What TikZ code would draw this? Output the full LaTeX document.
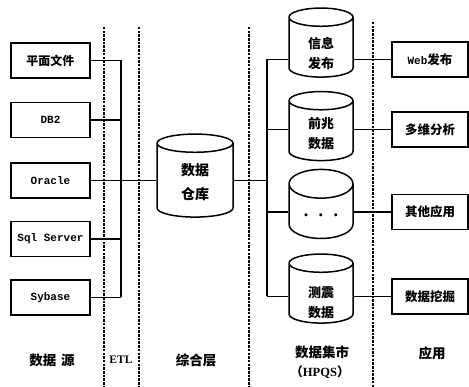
\documentclass[tikz,border=0pt]{standalone}
\usepackage{fontspec}
\setmainfont{Liberation Serif}
\newfontfamily\cjk{Noto Sans CJK SC}
\newfontfamily\lat{Liberation Mono}
\usetikzlibrary{shapes.geometric}
\newcommand\ctxt[2]{\raisebox{#1}[0pt][0pt]{\begin{tabular}{@{}c@{}}#2\end{tabular}}}
\tikzset{
  link/.style={line width=1.4pt},
  sep/.style={line width=1.3pt, dash pattern=on 2.5pt off 1.2pt},
  srcbox/.style={draw, line width=1.5pt, minimum width=79pt, minimum height=35pt, inner sep=0pt,
    font=\lat\bfseries\fontsize{11}{12}\selectfont},
  appbox/.style={draw, line width=1.5pt, minimum width=76pt, minimum height=35pt, inner sep=0pt,
    font=\cjk\bfseries\fontsize{12.5}{14}\selectfont},
  cyl/.style={draw, cylinder, shape border rotate=90, aspect=0.7, line width=1.5pt, inner sep=0pt,
    minimum width=64pt, minimum height=69pt, font=\cjk\bfseries\fontsize{13}{20}\selectfont},
  bigcyl/.style={cyl, aspect=0.65, minimum width=76pt, minimum height=83pt, font=\cjk\bfseries\fontsize{14}{24}\selectfont},
  lbl/.style={font=\cjk\bfseries\fontsize{13.5}{16}\selectfont, inner sep=0pt}
}
\begin{document}
\begin{tikzpicture}[x=1pt,y=-1pt]
\useasboundingbox (0,0) rectangle (469,387);
% separators
\draw[sep] (104,27) -- (104,387);
\draw[sep] (139,27) -- (139,387);
\draw[sep] (249,27) -- (249,387);
\draw[sep] (373,22) -- (373,387);
% sources
\node[srcbox, font=\cjk\bfseries\fontsize{12}{14}\selectfont] (s1) at (50.5,60.5) {平面文件};
\node[srcbox] (s2) at (50.5,120) {DB2};
\node[srcbox] (s3) at (50.5,180.5) {Oracle};
\node[srcbox] (s4) at (50.5,239) {Sql Server};
\node[srcbox] (s5) at (50.5,297.5) {Sybase};
% warehouse
\node[bigcyl] (dw) at (195,180.5) {\ctxt{-6pt}{数据\\仓库}};
% marts
\node[cyl] (c1) at (321,47.5) {\ctxt{-10pt}{信息\\发布}};
\node[cyl] (c2) at (321,131) {\ctxt{-7pt}{前兆\\数据}};
\node[cyl] (c3) at (321,211.5) {\raisebox{-8pt}[0pt][0pt]{\fontsize{11}{12}\selectfont\textbullet\hspace{4pt}\textbullet\hspace{4pt}\textbullet}};
\node[cyl] (c4) at (321,293.5) {\ctxt{-13pt}{测震\\数据}};
% applications
\node[appbox] (r1) at (430,59.5) {{\lat\bfseries\fontsize{11}{12}\selectfont Web}发布};
\node[appbox] (r2) at (430,129.5) {多维分析};
\node[appbox] (r3) at (430,212) {其他应用};
\node[appbox] (r4) at (430,296.5) {数据挖掘};
% left bus
\coordinate (lb) at (121,0);
\draw[link] (lb |- s1.east) -- (lb |- s5.east);
\foreach \i in {1,2,4,5} \draw[link] (s\i.east) -- (lb |- s\i.east);
\draw[link] (s3.east) -- (dw.west);
% right bus
\coordinate (rb) at (267,0);
\draw[link] (rb |- r1) -- (rb |- r4);
\draw[link] (dw.east) -- (rb |- dw.east);
\foreach \i in {1,2,3,4} {
  \draw[link] (rb |- r\i) -- (c\i.west |- r\i);
  \draw[link] (c\i.east |- r\i) -- (r\i.west);
}
% labels
\node[lbl] (l1) at (52,360) {数据\hspace{5pt}源};
\node[inner sep=0pt, font=\bfseries\fontsize{11.5}{13}\selectfont] (l2) at (121,360) {ETL};
\node[lbl] (l3) at (196,360) {综合层};
\node[lbl] (l4) at (322,352) {数据集市};
\node[lbl, font=\cjk\bfseries\fontsize{12.5}{14}\selectfont] (l5) at (320,372) {（{\rmfamily\bfseries HPQS}）};
\node[lbl] (l6) at (432,353) {应用};
\end{tikzpicture}
\end{document}
